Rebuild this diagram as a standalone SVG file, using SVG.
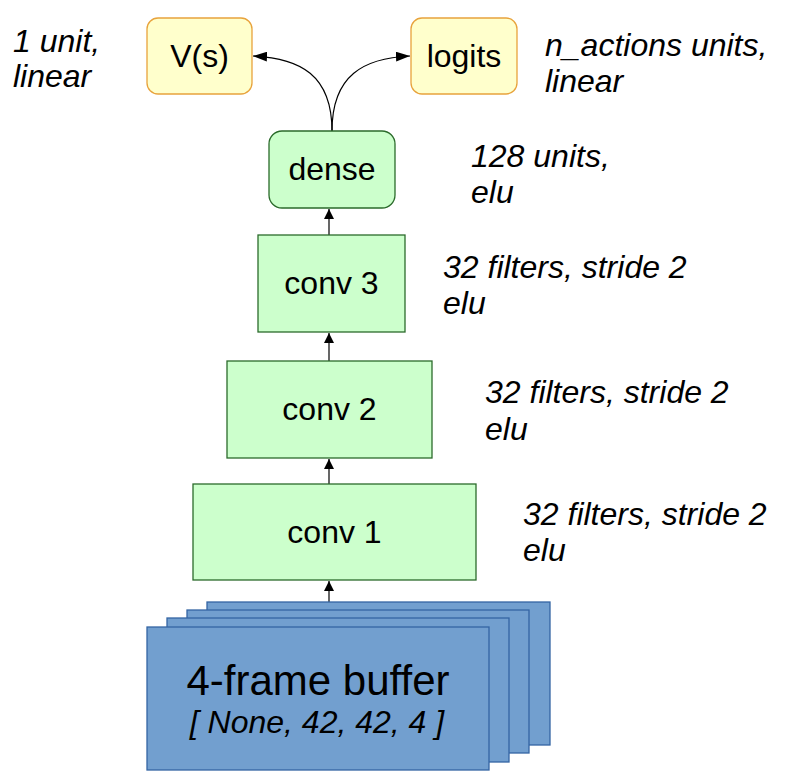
<svg xmlns="http://www.w3.org/2000/svg" width="812" height="781" viewBox="0 0 812 781">
<style>
text{font-family:"Liberation Sans",Arial,sans-serif;fill:#000}
.n{font-size:32px;text-anchor:middle}
.l{font-size:32px;font-style:italic}
.y{fill:#ffffcc;stroke:#e8a33c;stroke-width:1.3}
.g{fill:#ccffcc;stroke:#2b6b2b;stroke-width:1.3}
.b{fill:#729fcf;stroke:#3465a4;stroke-width:1.3}
.c{fill:none;stroke:#000;stroke-width:1.2}
</style>
<defs>
<marker id="ah" viewBox="0 0 10 10" refX="10" refY="5" markerWidth="10" markerHeight="10" markerUnits="userSpaceOnUse" orient="auto">
<path d="M0,0 L10,5 L0,10 z" fill="#000"/>
</marker>
<marker id="ah2" viewBox="0 0 14 10" refX="14" refY="5" markerWidth="14" markerHeight="10" markerUnits="userSpaceOnUse" orient="auto">
<path d="M0,0 L14,5 L0,10 z" fill="#000"/>
</marker>
</defs>
<rect width="812" height="781" fill="#fff"/>
<g id="connectors">
<path class="c" d="M332,131 C332,75 300,58 253,56" marker-end="url(#ah2)"/>
<path class="c" d="M332,131 C332,75 364,58 410,56" marker-end="url(#ah2)"/>
<line class="c" x1="329" y1="235" x2="329" y2="209" marker-end="url(#ah)"/>
<line class="c" x1="329" y1="361" x2="329" y2="333" marker-end="url(#ah)"/>
<line class="c" x1="329" y1="484" x2="329" y2="459" marker-end="url(#ah)"/>
<line class="c" x1="329" y1="602" x2="329" y2="581" marker-end="url(#ah)"/>
</g>
<g id="vs">
<rect class="y" x="147" y="18" width="105" height="76" rx="11"/>
<text class="n" x="199.5" y="67">V(s)</text>
</g>
<g id="logits">
<rect class="y" x="411" y="18" width="106" height="76" rx="11"/>
<text class="n" x="464" y="67">logits</text>
</g>
<g id="dense">
<rect class="g" x="269" y="131" width="126" height="77" rx="13"/>
<text class="n" x="332" y="180">dense</text>
</g>
<g id="conv3">
<rect class="g" x="258" y="235" width="147" height="97"/>
<text class="n" x="331.5" y="294">conv 3</text>
</g>
<g id="conv2">
<rect class="g" x="227" y="361" width="205" height="97"/>
<text class="n" x="329.5" y="420">conv 2</text>
</g>
<g id="conv1">
<rect class="g" x="193" y="484" width="283" height="96"/>
<text class="n" x="334.5" y="543">conv 1</text>
</g>
<g id="buffer">
<rect class="b" x="207" y="602" width="343" height="143"/>
<rect class="b" x="187" y="610" width="342" height="143"/>
<rect class="b" x="167" y="618" width="342" height="144"/>
<rect class="b" x="147" y="627" width="342" height="143"/>
<text x="318" y="695" style="font-size:42px;text-anchor:middle">4-frame buffer</text>
<text x="317" y="733" style="font-size:32px;font-style:italic;text-anchor:middle">[ None, 42, 42, 4 ]</text>
</g>
<g id="labels">
<text class="l" x="13" y="52">1 unit,</text>
<text class="l" x="13" y="87">linear</text>
<text class="l" x="545" y="56">n_actions units,</text>
<text class="l" x="545" y="92">linear</text>
<text class="l" x="471" y="167">128 units,</text>
<text class="l" x="471" y="203">elu</text>
<text class="l" x="443" y="278">32 filters, stride 2</text>
<text class="l" x="443" y="314">elu</text>
<text class="l" x="485" y="403">32 filters, stride 2</text>
<text class="l" x="485" y="440">elu</text>
<text class="l" x="523" y="525">32 filters, stride 2</text>
<text class="l" x="523" y="561">elu</text>
</g>
</svg>
